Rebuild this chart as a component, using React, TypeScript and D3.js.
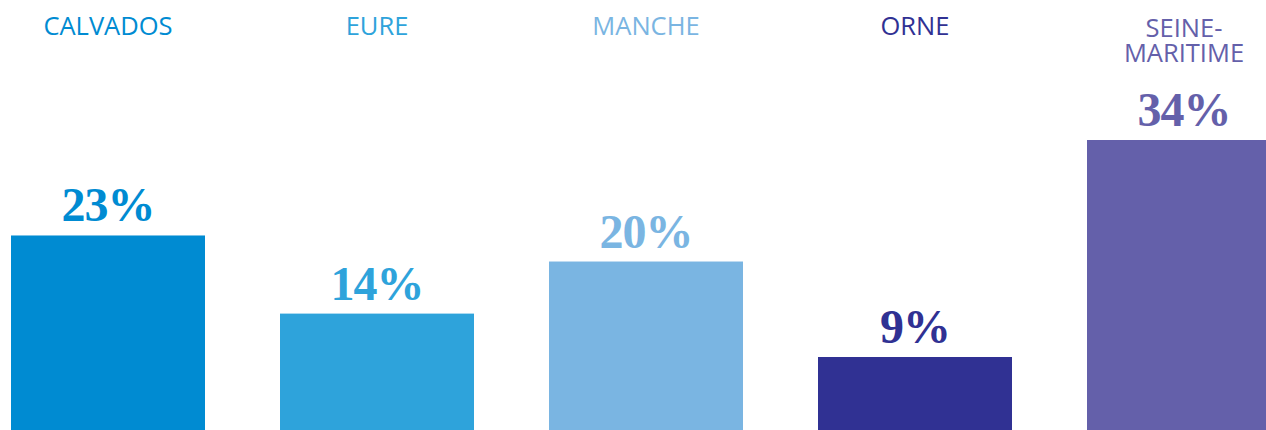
import React from "react";
import * as d3 from "d3";

const categories = ["CALVADOS", "EURE", "MANCHE", "ORNE", "SEINE-MARITIME"];
const labelLines = [["CALVADOS"], ["EURE"], ["MANCHE"], ["ORNE"], ["SEINE-", "MARITIME"]];
const values = [23, 14, 20, 9, 34];
const valueLabels = ["23%", "14%", "20%", "9%", "34%"];
const colors = ["#008bd2", "#2ea3db", "#7ab5e2", "#303193", "#6460aa"];

const W = 1266;
const H = 430;

export default function App() {
  const x = d3
    .scaleBand<string>()
    .domain(categories)
    .range([11, 1281])
    .paddingInner(75 / 269)
    .paddingOuter(0);
  const y = d3.scaleLinear().domain([0.59, 34]).range([H, 140]);

  return (
    <div style={{ position: "fixed", left: 0, top: 0 }}>
      <svg width={W} height={H} style={{ display: "block", background: "#fff" }}>
        {categories.map((c, i) => {
          const x0 = x(c)!;
          const cx = x0 + x.bandwidth() / 2;
          const lines = labelLines[i];
          const base = lines.length > 1 ? 37 : 35;
          return (
            <g key={c}>
              <rect x={x0} y={y(values[i])} width={x.bandwidth()} height={H - y(values[i])} fill={colors[i]} />
              <text
                x={cx}
                y={y(values[i]) - 14}
                textAnchor="middle"
                fill={colors[i]}
                letterSpacing={-1}
                style={{ fontFamily: "'Liberation Serif', serif", fontWeight: 700, fontSize: 48 }}
              >
                {valueLabels[i]}
              </text>
              {lines.map((l, j) => (
                <text
                  key={j}
                  x={cx}
                  y={base + j * 25}
                  textAnchor="middle"
                  fill={colors[i]}
                  style={{ fontFamily: "'Open Sans', sans-serif", fontWeight: 400, fontSize: 25.5 }}
                >
                  {l}
                </text>
              ))}
            </g>
          );
        })}
      </svg>
    </div>
  );
}
